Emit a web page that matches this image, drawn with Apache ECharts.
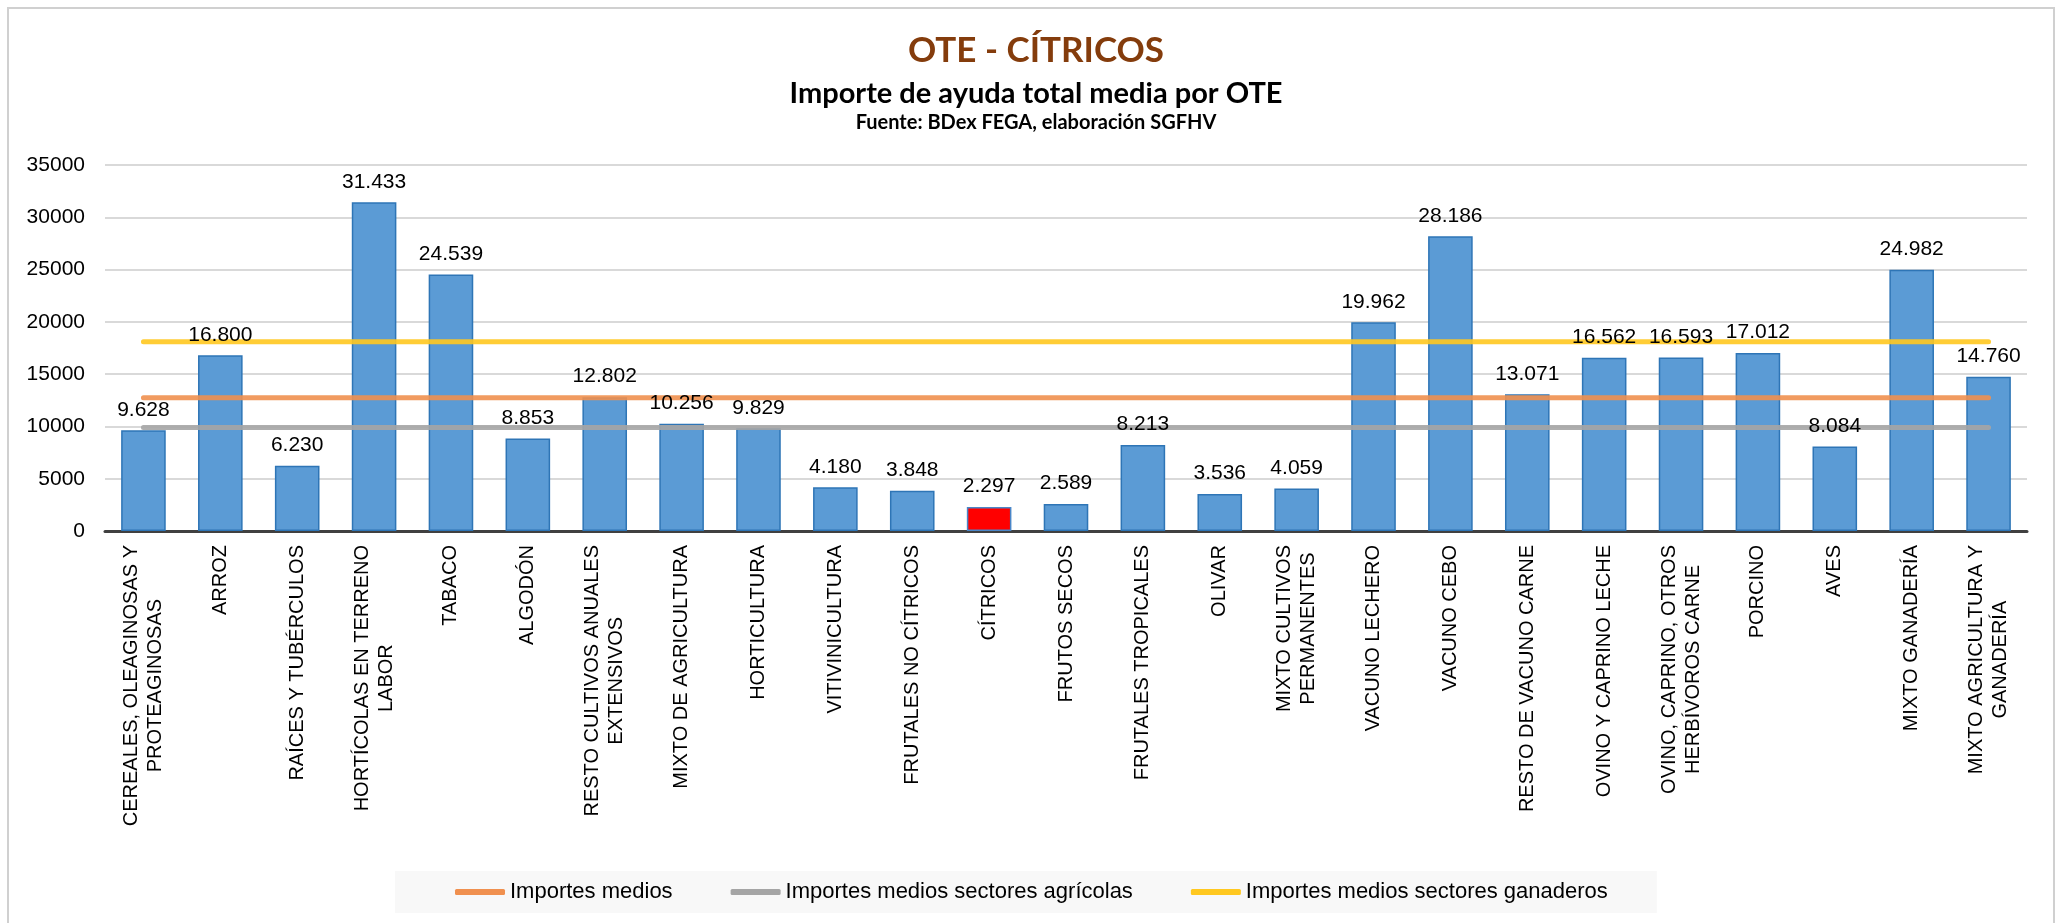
<!DOCTYPE html>
<html>
<head>
<meta charset="utf-8">
<title>OTE - CÍTRICOS</title>
<script src="https://cdn.jsdelivr.net/npm/echarts@6/dist/echarts.min.js"></script>
<style>
	html, body { margin: 0; padding: 0; background: #fff; }
	#myChart { width: 2063px; height: 923px; }
</style>
</head>
<body>
<div id="myChart"></div>
<script>
// categorías (OTE)
var categories = [
	'CEREALES, OLEAGINOSAS Y\nPROTEAGINOSAS', 'ARROZ', 'RAÍCES Y TUBÉRCULOS', 'HORTÍCOLAS EN TERRENO\nLABOR',
	'TABACO', 'ALGODÓN', 'RESTO CULTIVOS ANUALES\nEXTENSIVOS', 'MIXTO DE AGRICULTURA', 'HORTICULTURA',
	'VITIVINICULTURA', 'FRUTALES NO CÍTRICOS', 'CÍTRICOS', 'FRUTOS SECOS', 'FRUTALES TROPICALES', 'OLIVAR',
	'MIXTO CULTIVOS\nPERMANENTES', 'VACUNO LECHERO', 'VACUNO CEBO', 'RESTO DE VACUNO CARNE',
	'OVINO Y CAPRINO LECHE', 'OVINO, CAPRINO, OTROS\nHERBÍVOROS CARNE', 'PORCINO', 'AVES',
	'MIXTO GANADERÍA', 'MIXTO AGRICULTURA Y\nGANADERÍA'
];
// importe medio por OTE
var importes = [9628, 16800, 6230, 31433, 24539, 8853, 12802, 10256, 9829, 4180, 3848, 2297, 2589,
	8213, 3536, 4059, 19962, 28186, 13071, 16562, 16593, 17012, 8084, 24982, 14760];
// OTE destacada
var destacada = 'CÍTRICOS';
// medias (líneas horizontales)
var mediaTotal = 12750;
var mediaAgricola = 9900;
var mediaGanadera = 18100;
var yTicks = [0, 5000, 10000, 15000, 20000, 25000, 30000, 35000];

var font = '"Liberation Sans", Arial, sans-serif';
var titleFont = 'Lato, "Open Sans", sans-serif';

function fmtMiles(v) {
	return String(v).replace(/\B(?=(\d{3})+(?!\d))/g, '.');
}

function lineaMedia(name, value, color) {
	return {
		name: name,
		type: 'line',
		data: categories.map(function () { return value; }),
		symbol: 'none',
		z: 5,
		itemStyle: { color: color },
		lineStyle: { color: color, width: 5, cap: 'round', opacity: 0.9 },
		emphasis: { disabled: true }
	};
}

var myChart = echarts.init(document.getElementById('myChart'), null, { renderer: 'canvas' });
var option = {
	animation: false,
	backgroundColor: '#fff',
	graphic: [{
		type: 'rect',
		shape: { x: 8, y: 8, width: 2046, height: 940 },
		style: { fill: 'none', stroke: '#d0d0d0', lineWidth: 2 },
		silent: true
	}],
	title: [
		{
			text: 'OTE - CÍTRICOS', left: 1031, top: 28, textAlign: 'center',
			textStyle: { fontFamily: titleFont, fontWeight: 'bold', fontSize: 35, color: '#843c0c' }
		},
		{
			text: 'Importe de ayuda total media por OTE', left: 1031, top: 74, textAlign: 'center',
			textStyle: { fontFamily: titleFont, fontWeight: 'bold', fontSize: 29, color: '#000' }
		},
		{
			text: 'Fuente: BDex FEGA, elaboración SGFHV', left: 1031, top: 108, textAlign: 'center',
			textStyle: { fontFamily: titleFont, fontWeight: 'bold', fontSize: 20, color: '#000' }
		}
	],
	legend: {
		data: ['Importes medios', 'Importes medios sectores agrícolas', 'Importes medios sectores ganaderos'],
		left: 395,
		top: 871,
		padding: [10, 49, 10, 60],
		backgroundColor: '#f8f8f8',
		icon: 'roundRect',
		itemWidth: 50,
		itemHeight: 6,
		itemGap: 58,
		textStyle: { fontFamily: font, fontSize: 22, color: '#000' }
	},
	grid: { left: 105, right: 36, top: 165, bottom: 392, containLabel: false },
	xAxis: {
		type: 'category',
		data: categories,
		axisLine: { lineStyle: { color: '#404040', width: 3 } },
		axisTick: { show: false },
		axisLabel: {
			rotate: 90,
			interval: 0,
			margin: 14,
			fontFamily: font,
			fontSize: 20,
			lineHeight: 24,
			color: '#000',
			formatter: function (v) {
				return v.split('\n').map(function (l) { return '{c|' + l + '}'; }).join('\n');
			},
			rich: { c: { align: 'center', fontFamily: font, fontSize: 20, lineHeight: 24, color: '#000' } }
		}
	},
	yAxis: {
		type: 'value',
		min: yTicks[0],
		max: yTicks[yTicks.length - 1],
		interval: 5000,
		axisLine: { show: false },
		axisTick: { show: false },
		splitLine: { lineStyle: { color: '#d9d9d9', width: 2 } },
		axisLabel: {
			fontFamily: font, fontSize: 21, color: '#000', margin: 20,
			formatter: function (v) { return String(v); }
		}
	},
	series: [
		{
			name: 'Importe medio',
			type: 'bar',
			barWidth: '58%',
			z: 2,
			data: importes.map(function (v, i) {
				if (categories[i] === destacada) {
					return { value: v, itemStyle: { color: '#ff0000', borderColor: '#4a86c8' } };
				}
				return v;
			}),
			itemStyle: { color: '#5b9bd5', borderColor: '#2e75b6', borderWidth: 1.5 },
			emphasis: { disabled: true }
		},
		lineaMedia('Importes medios', mediaTotal, '#f0904f'),
		lineaMedia('Importes medios sectores agrícolas', mediaAgricola, '#a5a5a5'),
		lineaMedia('Importes medios sectores ganaderos', mediaGanadera, '#ffc820'),
		// etiquetas de las barras, por encima de las líneas
		{
			name: 'Etiquetas',
			type: 'bar',
			barWidth: '58%',
			barGap: '-100%',
			z: 10,
			silent: true,
			data: importes,
			itemStyle: { color: 'rgba(0,0,0,0)', borderWidth: 0 },
			label: {
				show: true,
				position: 'top',
				distance: 10,
				fontFamily: font,
				fontSize: 21,
				color: '#000',
				formatter: function (p) { return fmtMiles(p.value); }
			},
			emphasis: { disabled: true }
		}
	]
};
myChart.setOption(option);
</script>
</body>
</html>
